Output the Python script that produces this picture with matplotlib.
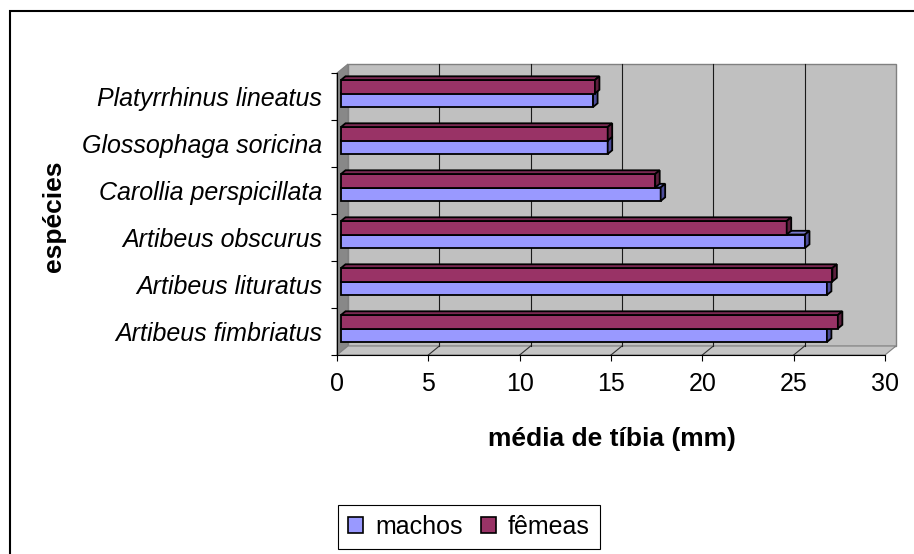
import matplotlib
matplotlib.use('Agg')
import matplotlib.pyplot as plt
from matplotlib.patches import Polygon, Rectangle, Patch

# ---------------- data ----------------
species = ['Artibeus fimbriatus', 'Artibeus lituratus', 'Artibeus obscurus',
           'Carollia perspicillata', 'Glossophaga soricina', 'Platyrrhinus lineatus']
machos = [26.6, 26.6, 25.4, 17.5, 14.6, 13.8]
femeas = [27.2, 26.9, 24.4, 17.2, 14.6, 13.9]
series_names = ['machos', 'fêmeas']
xticks = [0, 5, 10, 15, 20, 25, 30]
x_label = 'média de tíbia (mm)'
y_label = 'espécies'

# ---------------- style ----------------
FONT = 'Liberation Sans'
C_M_FRONT, C_M_TOP, C_M_SIDE = '#9999FF', '#7777CC', '#4C4C99'
C_F_FRONT, C_F_TOP, C_F_SIDE = '#993366', '#7A2952', '#5C1F3D'

W, H, DPI = 914, 554, 100
fig = plt.figure(figsize=(W / DPI, H / DPI), dpi=DPI)
fig.patch.set_facecolor('white')

# front plane (pixels)
L, R, B, T = 337, 885, 355, 73
ax = fig.add_axes([L / W, 1 - B / H, (R - L) / W, (B - T) / H])
xmax = xticks[-1]
ncat = len(species)
ax.set_xlim(0, xmax)
ax.set_ylim(0, ncat)
ax.patch.set_visible(False)
for s in ['top', 'right']:
    ax.spines[s].set_visible(False)
for s in ['left', 'bottom']:
    ax.spines[s].set_color('black')
    ax.spines[s].set_linewidth(0.8)
    ax.spines[s].set_zorder(2)

px_x = (R - L) / xmax
px_y = (B - T) / ncat


def d(dxp, dyp):
    return dxp / px_x, dyp / px_y


# walls
wx, wy = d(11, 9)
ax.add_patch(Rectangle((wx, wy), xmax, ncat, fc='#C0C0C0', ec='#808080', lw=1,
                       zorder=0.5, clip_on=False))
ax.add_patch(Polygon([(0, 0), (0, ncat), (wx, ncat + wy), (wx, wy)], closed=True,
                     fc='#888888', ec='#808080', lw=0.8, zorder=0.6, clip_on=False))
ax.add_patch(Polygon([(0, 0), (xmax, 0), (xmax + wx, wy), (wx, wy)], closed=True,
                     fc='#C4C4C4', ec='#808080', lw=0.8, zorder=0.6, clip_on=False))
for x in xticks[1:-1]:
    ax.plot([x + wx, x + wx], [wy, ncat + wy], color='#1A1A1A', lw=0.8,
            zorder=0.7, clip_on=False)
    ax.plot([x, x + wx], [0, wy], color='#303030', lw=0.8, zorder=0.7, clip_on=False)

# bars
hb = 13.5 / 47.0
fx, fy = d(4, 3)
bx, by = d(4.5, 3.7)
LW = 1.3


def bar3d(yc, v, cf, ct, cs, z):
    y0 = yc - hb / 2 + fy
    y1 = yc + hb / 2 + fy
    x0 = fx
    x1 = fx + v
    ax.barh(yc + fy, v, height=hb, left=fx, color=cf, edgecolor='black',
            linewidth=LW, zorder=z, clip_on=False)
    ax.add_patch(Polygon([(x0, y1), (x1, y1), (x1 + bx, y1 + by), (x0 + bx, y1 + by)],
                         closed=True, fc=ct, ec='black', lw=LW, zorder=z,
                         clip_on=False, joinstyle='miter'))
    ax.add_patch(Polygon([(x1, y0), (x1 + bx, y0 + by), (x1 + bx, y1 + by), (x1, y1)],
                         closed=True, fc=cs, ec='black', lw=LW, zorder=z,
                         clip_on=False, joinstyle='miter'))


for i in range(ncat):
    c = i + 0.5
    bar3d(c - hb / 2, machos[i], C_M_FRONT, C_M_TOP, C_M_SIDE, 3 + i * 0.01)
    bar3d(c + hb / 2, femeas[i], C_F_FRONT, C_F_TOP, C_F_SIDE, 4 + i * 0.01)

# ticks
ax.set_xticks(xticks)
ax.set_xticklabels([str(t) for t in xticks], fontfamily=FONT, fontsize=18)
ax.tick_params(axis='x', which='major', length=4, width=0.8, direction='out',
               pad=8, color='black')
ax.set_yticks([i + 0.5 for i in range(ncat)])
ax.set_yticklabels(species, fontfamily=FONT, fontsize=18, fontstyle='italic')
ax.set_yticks(list(range(ncat + 1)), minor=True)
ax.tick_params(axis='y', which='major', length=0, pad=10.8)
ax.tick_params(axis='y', which='minor', length=4, width=0.8, direction='out',
               color='black')

# axis titles
fig.text(612 / W, 1 - 439 / H, x_label, ha='center', va='center',
         fontfamily=FONT, fontsize=19, fontweight='bold')
fig.text(54 / W, 1 - 216 / H, y_label, ha='center', va='center', rotation=90,
         fontfamily=FONT, fontsize=19, fontweight='bold')

# legend
handles = [Patch(fc=C_M_FRONT, ec='black', lw=1.2), Patch(fc=C_F_FRONT, ec='black', lw=1.2)]
leg = fig.legend(handles, series_names, loc='upper left',
                 bbox_to_anchor=(338 / W, 1 - 505 / H), bbox_transform=fig.transFigure,
                 ncol=2, frameon=True, fancybox=False, edgecolor='black', framealpha=1,
                 prop={'family': FONT, 'size': 18}, handlelength=0.6, handleheight=0.6,
                 handletextpad=0.5, columnspacing=0.7, borderpad=0.4, borderaxespad=0)
leg.get_frame().set_linewidth(0.8)

# outer chart border
fig.add_artist(Rectangle((9.5 / W, -0.5), 2, (1 - 11.5 / H) + 0.5,
                         transform=fig.transFigure, fill=False, ec='black', lw=1.5))

fig.savefig('out.png', dpi=DPI)
